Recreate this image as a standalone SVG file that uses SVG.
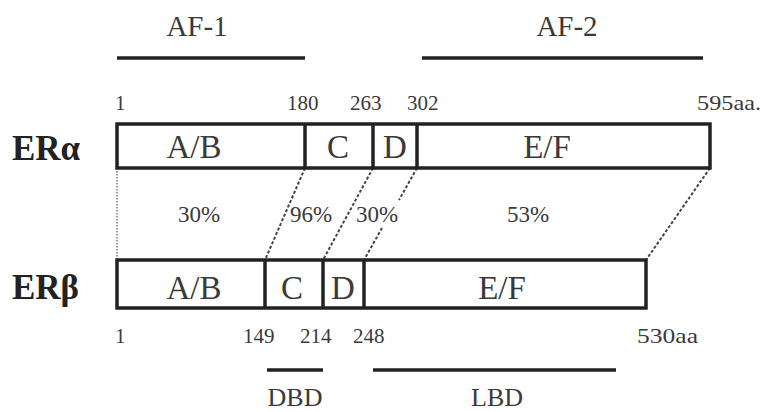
<svg xmlns="http://www.w3.org/2000/svg" width="763" height="412" viewBox="0 0 763 412">
<style>
text{font-family:"Liberation Serif","DejaVu Serif",serif;fill:#3a3a3a}
.dom{font-size:33px;text-anchor:middle}
.num{font-size:21px}
.pct{font-size:23px;text-anchor:middle}
.ttl{font-size:29px;text-anchor:middle}
.low{font-size:26px;text-anchor:middle}
.lbl{font-size:35px;font-weight:bold;fill:#222}
.box{fill:#fff;stroke:#222;stroke-width:3.5}
.bar{stroke:#222;stroke-width:3.5}
.dash{stroke:#444;stroke-width:2;stroke-dasharray:3 2;fill:none}
.dot{stroke:#999;stroke-width:2;stroke-dasharray:1.5 1.5;fill:none}
</style>
<rect width="763" height="412" fill="#fff"/>
<g id="connectors">
<line class="dot" x1="117" y1="168" x2="117" y2="260"/>
<line class="dash" x1="305" y1="168" x2="265" y2="260"/>
<line class="dash" x1="373" y1="168" x2="323" y2="260"/>
<line class="dash" x1="417" y1="168" x2="399" y2="200"/>
<line class="dash" x1="382" y1="228" x2="364" y2="260"/>
<line class="dash" x1="710" y1="168" x2="646" y2="260"/>
</g>
<g id="af1">
<text class="ttl" x="197" y="36">AF-1</text>
<line class="bar" x1="117" y1="58" x2="305" y2="58"/>
</g>
<g id="af2">
<text class="ttl" x="567" y="36">AF-2</text>
<line class="bar" x1="422" y1="58" x2="703" y2="58"/>
</g>
<g id="era">
<text class="lbl" x="12" y="160">ERα</text>
<rect class="box" x="117" y="124" width="593" height="44"/>
<line class="bar" x1="305" y1="124" x2="305" y2="168"/>
<line class="bar" x1="373" y1="124" x2="373" y2="168"/>
<line class="bar" x1="417" y1="124" x2="417" y2="168"/>
<text class="dom" x="194" y="158">A/B</text>
<text class="dom" x="338" y="158">C</text>
<text class="dom" x="395" y="158">D</text>
<text class="dom" x="547" y="158">E/F</text>
<text class="num" x="115" y="110">1</text>
<text class="num" x="287" y="110">180</text>
<text class="num" x="350" y="110">263</text>
<text class="num" x="407" y="110">302</text>
<text class="num" x="697" y="110" textLength="64" lengthAdjust="spacingAndGlyphs">595aa.</text>
</g>
<g id="pct">
<text class="pct" x="199" y="222">30%</text>
<text class="pct" x="311" y="222">96%</text>
<text class="pct" x="377" y="222">30%</text>
<text class="pct" x="528" y="222">53%</text>
</g>
<g id="erb">
<text class="lbl" x="12" y="299">ERβ</text>
<rect class="box" x="117" y="260" width="529" height="48"/>
<line class="bar" x1="265" y1="260" x2="265" y2="308"/>
<line class="bar" x1="323" y1="260" x2="323" y2="308"/>
<line class="bar" x1="364" y1="260" x2="364" y2="308"/>
<text class="dom" x="194" y="299">A/B</text>
<text class="dom" x="292" y="299">C</text>
<text class="dom" x="343" y="299">D</text>
<text class="dom" x="502" y="299">E/F</text>
<text class="num" x="115" y="343">1</text>
<text class="num" x="243" y="343">149</text>
<text class="num" x="300" y="343">214</text>
<text class="num" x="353" y="343">248</text>
<text class="num" x="637" y="343" textLength="61" lengthAdjust="spacingAndGlyphs">530aa</text>
</g>
<g id="dbd">
<line class="bar" x1="267" y1="370" x2="323" y2="370"/>
<text class="low" x="295" y="406">DBD</text>
</g>
<g id="lbd">
<line class="bar" x1="373" y1="370" x2="616" y2="370"/>
<text class="low" x="497" y="406">LBD</text>
</g>
</svg>
